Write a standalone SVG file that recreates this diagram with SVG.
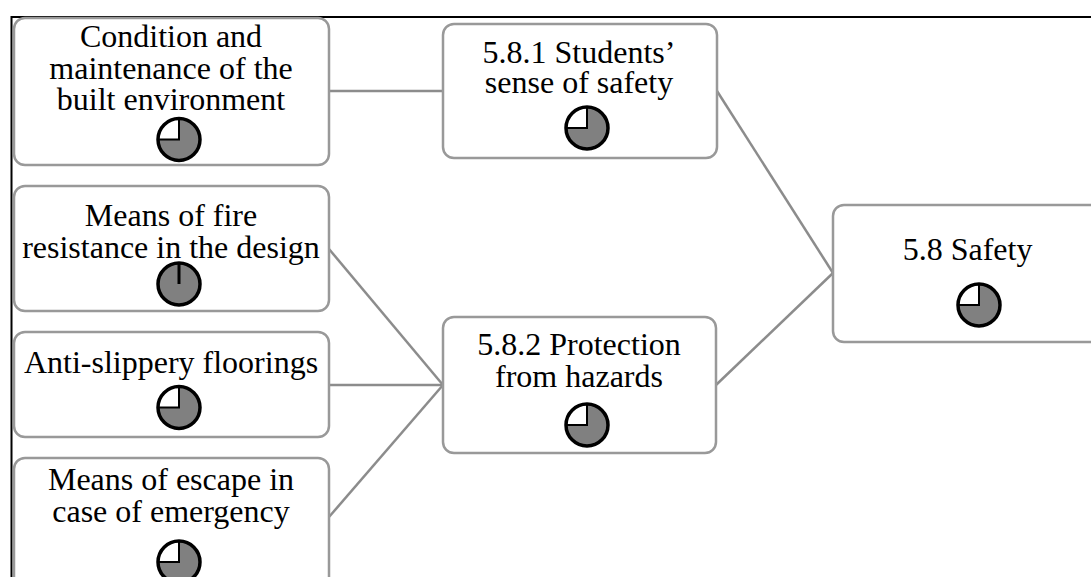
<svg xmlns="http://www.w3.org/2000/svg" xmlns:xlink="http://www.w3.org/1999/xlink" width="1091" height="577" viewBox="0 0 1091 577">
  <style>
    .box { fill: #ffffff; stroke: #999999; stroke-width: 2.5; }
    .link { fill: none; stroke: #8c8c8c; stroke-width: 2.5; }
    .label { font-family: "Liberation Serif", "Times New Roman", serif; font-size: 32px; fill: #000000; text-anchor: middle; }
    .frame { fill: none; stroke: #000000; stroke-width: 2; }
  </style>
  <defs>
    <!-- three-quarter filled rating dial -->
    <g id="pie75">
      <circle r="21" fill="#ffffff"/>
      <path d="M0,0 L0,-21 A21,21 0 1 1 -21,0 Z" fill="#808080"/>
      <path d="M0,-21 L0,0 L-21,0" fill="none" stroke="#000000" stroke-width="2"/>
      <circle r="21" fill="none" stroke="#000000" stroke-width="3.5"/>
    </g>
    <!-- fully filled rating dial -->
    <g id="pie100">
      <circle r="21" fill="#808080"/>
      <path d="M0,-21 L0,0" fill="none" stroke="#000000" stroke-width="3"/>
      <circle r="21" fill="none" stroke="#000000" stroke-width="3.5"/>
    </g>
  </defs>

  <rect width="1091" height="577" fill="#ffffff"/>

  <!-- outer frame -->
  <path class="frame" d="M11.5,577 L11.5,17 L1091,17"/>

  <!-- connectors -->
  <g id="connectors">
    <path class="link" d="M329,91 L443,91"/>
    <path class="link" d="M329,249 L443,385"/>
    <path class="link" d="M329,385 L443,385"/>
    <path class="link" d="M329,517 L443,385"/>
    <path class="link" d="M717,91 L833,273"/>
    <path class="link" d="M716,385 L833,273"/>
  </g>

  <g id="node-condition">
    <rect class="box" x="14" y="18" width="315" height="147" rx="11"/>
    <text class="label" x="171" y="47">Condition and</text>
    <text class="label" x="171" y="79">maintenance of the</text>
    <text class="label" x="171" y="110">built environment</text>
    <use xlink:href="#pie75" x="179" y="139.5"/>
  </g>

  <g id="node-fire">
    <rect class="box" x="14" y="186" width="315" height="125" rx="11"/>
    <text class="label" x="171" y="226">Means of fire</text>
    <text class="label" x="171" y="258">resistance in the design</text>
    <use xlink:href="#pie100" x="179" y="284"/>
  </g>

  <g id="node-flooring">
    <rect class="box" x="14" y="332" width="315" height="105" rx="11"/>
    <text class="label" x="171" y="373">Anti-slippery floorings</text>
    <use xlink:href="#pie75" x="179" y="407.5"/>
  </g>

  <g id="node-escape">
    <rect class="box" x="14" y="458" width="315" height="135" rx="11"/>
    <text class="label" x="171" y="490">Means of escape in</text>
    <text class="label" x="171" y="522">case of emergency</text>
    <use xlink:href="#pie75" x="179" y="562"/>
  </g>

  <g id="node-581">
    <rect class="box" x="443" y="24" width="274" height="134" rx="11"/>
    <text class="label" x="579" y="63">5.8.1 Students’</text>
    <text class="label" x="579" y="93">sense of safety</text>
    <use xlink:href="#pie75" x="587" y="128"/>
  </g>

  <g id="node-582">
    <rect class="box" x="443" y="317" width="273" height="136" rx="11"/>
    <text class="label" x="579" y="355">5.8.2 Protection</text>
    <text class="label" x="579" y="387">from hazards</text>
    <use xlink:href="#pie75" x="587" y="425"/>
  </g>

  <g id="node-58">
    <rect class="box" x="833" y="205" width="280" height="137" rx="11"/>
    <text class="label" x="967.5" y="260">5.8 Safety</text>
    <use xlink:href="#pie75" x="979" y="305"/>
  </g>
</svg>
